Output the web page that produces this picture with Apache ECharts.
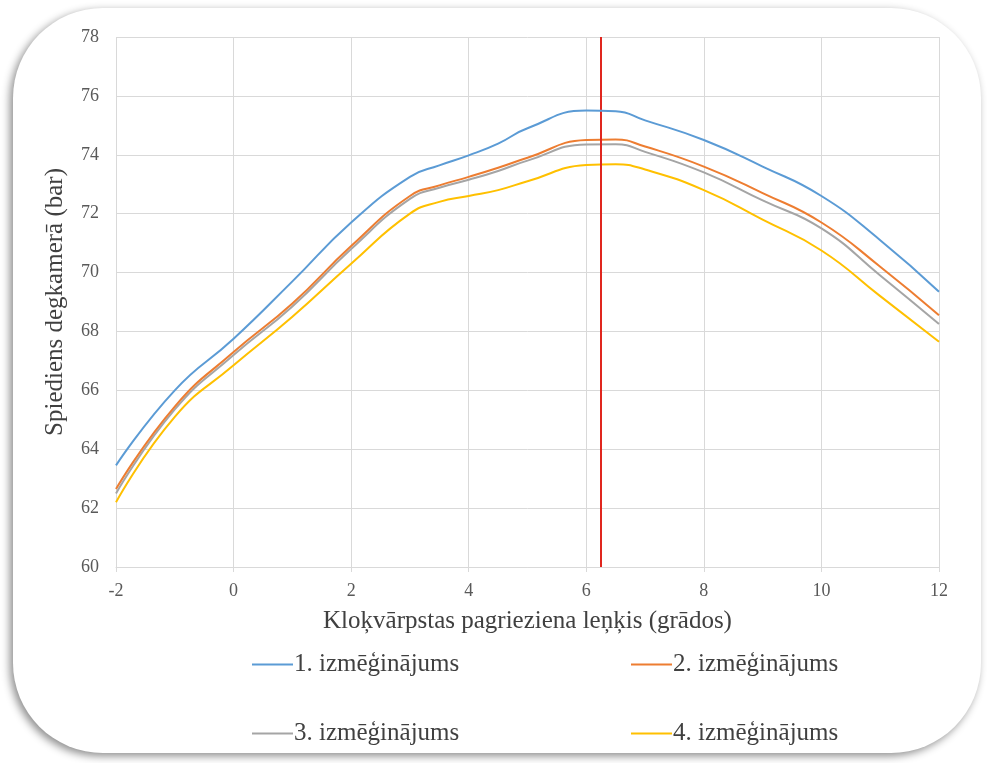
<!DOCTYPE html>
<html>
<head>
<meta charset="utf-8">
<script src="https://cdn.jsdelivr.net/npm/echarts@6/dist/echarts.min.js"></script>
<style>
html,body{margin:0;padding:0;background:#fff;}
#c{width:987px;height:763px;}
</style>
</head>
<body>
<div id="c"></div>
<script>
var xValues = [-2, -1, 0, 1, 2, 3, 3.5, 4, 4.5, 5, 6, 6.5, 7, 8, 9, 10, 11, 12];
var series1 = [63.45, 66.0, 67.75, 69.7, 71.7, 73.25, 73.64, 73.98, 74.38, 74.9, 75.5, 75.48, 75.17, 74.5, 73.6, 72.6, 71.1, 69.35];
var series2 = [62.65, 65.45, 67.3, 68.95, 70.9, 72.6, 72.96, 73.25, 73.56, 73.9, 74.5, 74.52, 74.28, 73.6, 72.7, 71.7, 70.2, 68.55];
var series3 = [62.5, 65.35, 67.2, 68.85, 70.8, 72.5, 72.88, 73.15, 73.45, 73.8, 74.35, 74.36, 74.1, 73.4, 72.45, 71.5, 69.9, 68.25];
var series4 = [62.2, 65.1, 66.85, 68.5, 70.3, 72.0, 72.4, 72.6, 72.8, 73.1, 73.65, 73.68, 73.5, 72.8, 71.8, 70.75, 69.2, 67.65];
var seriesNames = ['1. izmēģinājums', '2. izmēģinājums', '3. izmēģinājums', '4. izmēģinājums'];
var markerX = 6.25;
var xTitle = 'Kloķvārpstas pagrieziena leņķis (grādos)';
var yTitle = 'Spiediens degkamerā (bar)';

function pairs(ys){ return xValues.map(function(x,i){ return [x, ys[i]]; }); }
var colors = ['#5B9BD5', '#ED7D31', '#A5A5A5', '#FFC000'];
var font = '"Liberation Serif", "Times New Roman", serif';

var chart = echarts.init(document.getElementById('c'));
var allData = [series1, series2, series3, series4];
var seriesList = allData.map(function(d, i){
  return {
    name: seriesNames[i], type: 'line', data: pairs(d), smooth: 0.5,
    symbol: 'none', lineStyle: {width: 2, color: colors[i]}, itemStyle: {color: colors[i]}, z: 5 - i
  };
});
seriesList[0].markLine = {
  silent: true, symbol: 'none', label: {show: false},
  lineStyle: {color: '#E0261E', width: 2, type: 'solid'},
  data: [{xAxis: markerX}]
};
seriesList[0].z = 10;

function legendAt(i, left, top){
  return {
    data: [seriesNames[i]], left: left, top: top, orient: 'horizontal',
    icon: 'rect', itemWidth: 41, itemHeight: 2, itemGap: 0,
    textStyle: {fontFamily: font, fontSize: 25, color: '#404040', padding: [0,0,0,-4]}
  };
}

chart.setOption({
  animation: false,
  backgroundColor: '#fff',
  graphic: [{
    type: 'rect', left: 13, top: 8, z: -10, silent: true,
    shape: {width: 968, height: 745, r: 90},
    style: {fill: '#fff', shadowBlur: 8, shadowColor: 'rgba(0,0,0,0.45)', shadowOffsetX: -3, shadowOffsetY: 3}
  }],
  grid: {left: 116, right: 48, top: 37, bottom: 196},
  legend: [
    legendAt(0, 247, 647),
    legendAt(1, 626, 647),
    legendAt(2, 247, 716),
    legendAt(3, 626, 716)
  ],
  xAxis: {
    type: 'value', min: -2, max: 12, interval: 2,
    name: xTitle, nameLocation: 'middle', nameGap: 42,
    nameTextStyle: {fontFamily: font, fontSize: 25, color: '#404040'},
    axisLine: {show: true, lineStyle: {color: '#D9D9D9', width: 1}},
    axisTick: {show: true, length: 5, lineStyle: {color: '#D9D9D9'}},
    axisLabel: {fontFamily: font, fontSize: 18, color: '#595959', margin: 15},
    splitLine: {show: true, lineStyle: {color: '#D9D9D9', width: 1}}
  },
  yAxis: {
    type: 'value', min: 60, max: 78, interval: 2,
    name: yTitle, nameLocation: 'middle', nameGap: 48, nameRotate: 90,
    nameTextStyle: {fontFamily: font, fontSize: 25, color: '#404040'},
    axisLine: {show: false}, axisTick: {show: false},
    axisLabel: {fontFamily: font, fontSize: 18, color: '#595959', margin: 17},
    splitLine: {show: true, lineStyle: {color: '#D9D9D9', width: 1}}
  },
  series: seriesList
});
</script>
</body>
</html>
